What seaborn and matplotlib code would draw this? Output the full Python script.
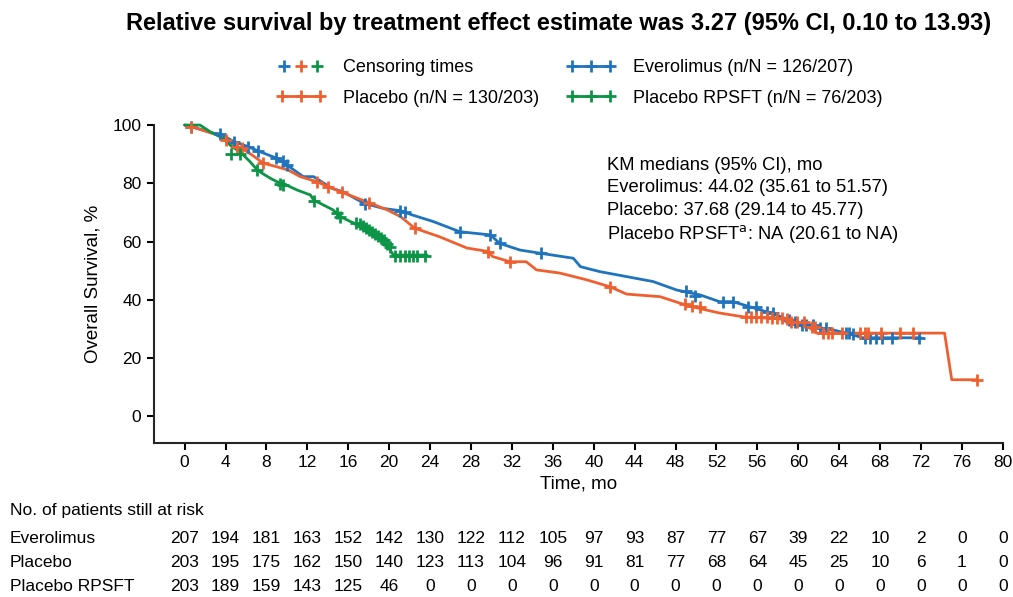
import numpy as np
import pandas as pd
import matplotlib
matplotlib.use("Agg")
import matplotlib.pyplot as plt
import matplotlib.transforms as mtransforms
from matplotlib.lines import Line2D
from matplotlib.legend_handler import HandlerTuple, HandlerLine2D
import seaborn as sns

# ── DATA ─────────────────────────────────────────────────────
evero_t = [0, 0.6, 1.8, 2.8, 3.5, 4.8, 6.2, 7.2, 9.0, 10.0, 11.6, 12.6, 14.4, 15.5,
           17.5, 19.4, 21.1, 22.3, 24.3, 26.9, 29.9, 30.8, 32.8, 34.8, 38.0, 38.7,
           40.6, 43.2, 45.8, 48.1, 50.4, 52.3, 53.6, 55.3, 56.9, 59.2, 59.5, 61.4,
           62.0, 63.4, 64.7, 66.3, 72.0]
evero_s = [100, 99.5, 98.3, 97.2, 97.0, 94.3, 92.6, 91.1, 88.6, 86.3, 82.3, 82.3,
           78.3, 77.1, 73.2, 71.4, 70.6, 69.1, 66.9, 63.4, 62.3, 59.4, 57.1, 56.0,
           54.3, 51.4, 49.7, 48.0, 46.3, 43.4, 41.7, 39.4, 39.4, 37.6, 35.9, 33.1,
           31.5, 31.5, 30.5, 29.7, 28.6, 27.0, 27.0]

plac_t = [0, 0.6, 2.2, 3.2, 4.0, 5.1, 5.6, 6.6, 7.7, 9.0, 10.1, 11.3, 12.9, 14.0,
          15.4, 18.0, 19.8, 21.1, 22.5, 24.9, 27.6, 29.7, 30.1, 31.8, 33.4, 34.4,
          36.7, 39.3, 41.6, 43.2, 46.5, 48.4, 50.4, 52.3, 54.6, 58.2, 59.2, 61.1,
          61.8, 74.3, 75.0, 77.5]
plac_s = [100, 99.5, 97.7, 96.6, 94.9, 92.6, 92.0, 89.7, 86.9, 85.7, 84.6, 82.3,
          80.6, 78.9, 76.9, 73.4, 70.9, 68.6, 64.6, 61.7, 57.8, 56.6, 54.9, 53.1,
          53.1, 50.3, 49.2, 46.9, 44.5, 42.0, 41.1, 38.9, 37.0, 35.5, 34.2, 33.5,
          32.0, 30.4, 28.6, 28.6, 12.6, 12.6]

rpsft_t = [0, 1.5, 2.5, 3.8, 4.6, 5.4, 6.4, 7.1, 7.6, 8.4, 9.0, 9.6, 11.0, 12.3,
           12.6, 14.5, 15.2, 16.2, 17.0, 17.8, 18.8, 19.4, 19.9, 20.4, 23.7]
rpsft_s = [100, 100, 97.7, 95.4, 92.6, 90.9, 87.4, 84.6, 83.4, 81.7, 80.6, 80.0,
           77.7, 76.0, 74.3, 70.9, 68.6, 66.9, 65.7, 64.0, 62.3, 60.6, 58.3, 55.4,
           55.4]

# censoring marks
evero_cens_t = [0.6, 3.5, 4.8, 6.2, 7.2, 8.9, 9.6, 10.0, 17.6, 21.1, 21.5, 26.9,
                29.9, 30.8, 34.8, 49.0, 49.9, 52.6, 53.6, 55.1, 55.9, 56.9, 57.5,
                59.1, 59.7, 60.4, 60.8, 61.4, 62.1, 62.7, 64.7, 65.0, 65.3, 66.5,
                67.0, 67.6, 68.2, 69.2, 71.8]
evero_cens_s = [99.5, 97.1, 94.3, 92.6, 91.1, 88.6, 87.5, 86.3, 73.0, 70.6, 70.3,
                63.4, 62.3, 59.4, 56.0, 43.0, 41.5, 39.4, 39.4, 37.6, 37.4, 36.0,
                35.5, 33.1, 32.5, 31.5, 31.5, 31.5, 30.5, 30.2, 28.8, 28.6, 28.4,
                27.0, 27.0, 27.0, 27.0, 27.0, 27.0]

plac_cens_t = [0.6, 4.0, 5.1, 5.6, 7.7, 12.9, 14.0, 15.4, 18.0, 22.5, 29.7, 31.8,
               41.6, 48.9, 49.6, 50.4, 54.9, 55.4, 55.9, 56.4, 56.9, 57.4, 57.9,
               58.4, 58.9, 59.3, 59.9, 60.6, 61.3, 61.6, 62.4, 62.9, 63.3, 64.3,
               66.0, 66.5, 66.8, 68.1, 69.9, 71.2, 77.5]
plac_cens_s = [99.5, 94.9, 92.6, 92.0, 86.9, 80.6, 78.9, 76.9, 73.4, 64.6, 56.6,
               53.1, 44.5, 38.6, 38.0, 37.5, 34.2, 34.2, 34.2, 34.1, 34.0, 33.9,
               33.8, 33.7, 33.6, 32.4, 32.4, 32.4, 30.7, 30.7, 28.6, 28.6, 28.6,
               28.6, 28.6, 28.6, 28.6, 28.6, 28.6, 28.6, 12.6]

rpsft_cens_t = [4.5, 5.4, 7.1, 9.3, 9.6, 12.6, 14.9, 15.2, 16.8, 17.1, 17.4, 17.7,
                18.0, 18.3, 18.6, 18.9, 19.2, 19.5, 19.8, 20.1, 20.6, 21.1, 21.5,
                21.9, 22.3, 22.7, 23.5]
rpsft_cens_s = [90.2, 90.2, 84.6, 79.8, 79.4, 74.0, 69.8, 68.6, 66.5, 66.0, 65.3,
                64.6, 64.0, 63.3, 62.6, 62.0, 61.2, 60.5, 59.3, 58.0, 55.2, 55.2,
                55.2, 55.2, 55.2, 55.2, 55.2]

# numbers at risk
risk_times = list(range(0, 81, 4))
risk_evero = [207, 194, 181, 163, 152, 142, 130, 122, 112, 105, 97, 93, 87, 77, 67,
              39, 22, 10, 2, 0, 0]
risk_plac = [203, 195, 175, 162, 150, 140, 123, 113, 104, 96, 91, 81, 77, 68, 64,
             45, 25, 10, 6, 1, 0]
risk_rpsft = [203, 189, 159, 143, 125, 46, 0, 0, 0, 0, 0, 0, 0, 0, 0, 0, 0, 0, 0,
              0, 0]

arm_names = ["Everolimus", "Placebo", "Placebo RPSFT"]
arm_events = ["126/207", "130/203", "76/203"]
c_blue, c_orange, c_green = "#1f74bd", "#ef6030", "#0c9447"

# ── STYLE ────────────────────────────────────────────────────
sns.set_theme(style="ticks")
plt.rcParams["font.family"] = ["Liberation Sans", "DejaVu Sans"]
plt.rcParams["axes.linewidth"] = 1.5
plt.rcParams["text.color"] = "black"
plt.rcParams["axes.labelcolor"] = "black"
plt.rcParams["xtick.color"] = "black"
plt.rcParams["ytick.color"] = "black"

fig = plt.figure(figsize=(10.13, 5.97), dpi=100)
ax = fig.add_axes([0.152, 0.2585, 0.838, 0.532])

# ── CURVES ───────────────────────────────────────────────────
curves = [(evero_t, evero_s, c_blue), (plac_t, plac_s, c_orange),
          (rpsft_t, rpsft_s, c_green)]
for t, s, c in curves:
    sns.lineplot(x=t, y=s, ax=ax, color=c, linewidth=2.0, sort=False,
                 estimator=None, clip_on=False)

cens = [(evero_cens_t, evero_cens_s, c_blue), (plac_cens_t, plac_cens_s, c_orange),
        (rpsft_cens_t, rpsft_cens_s, c_green)]
for t, s, c in cens:
    sns.scatterplot(x=t, y=s, ax=ax, marker="+", s=85, linewidth=2.0, color=c,
                    clip_on=False, zorder=3)

ax.set_xlim(-3, 80)
ax.set_ylim(-9, 100)
ax.set_xticks(risk_times)
ax.set_yticks(range(0, 101, 20))
ax.tick_params(axis="both", labelsize=12.5, length=5, width=1.5, pad=4)
sns.despine(ax=ax)
ax.set_xlabel("Time, mo", fontsize=13.5, labelpad=4)
ax.set_ylabel("Overall Survival, %", fontsize=13.5, labelpad=8)

# ── TITLE / LEGEND ───────────────────────────────────────────
fig.text(0.551, 0.961, "Relative survival by treatment effect estimate was 3.27 "
         "(95% CI, 0.10 to 13.93)", ha="center", va="center", fontsize=17,
         fontweight="bold")

mk = dict(marker="+", markersize=9, markeredgewidth=2.0, linestyle="none")
cb = Line2D([], [], color=c_blue, **mk)
co = Line2D([], [], color=c_orange, **mk)
cg = Line2D([], [], color=c_green, **mk)
ln = dict(marker="+", markersize=9, markeredgewidth=2.0, linewidth=2.0)
h_e = Line2D([], [], color=c_blue, **ln)
h_p = Line2D([], [], color=c_orange, **ln)
h_r = Line2D([], [], color=c_green, **ln)
handles = [(cb, co, cg), h_p, h_e, h_r]
labels = ["Censoring times",
          f"{arm_names[1]} (n/N = {arm_events[1]})",
          f"{arm_names[0]} (n/N = {arm_events[0]})",
          f"{arm_names[2]} (n/N = {arm_events[2]})"]
single = HandlerLine2D(numpoints=1)
fig.legend(handles, labels, ncol=2, loc="center", bbox_to_anchor=(0.572, 0.861),
           frameon=False, fontsize=13, numpoints=3, handlelength=2.7,
           handletextpad=1.0, columnspacing=1.5, labelspacing=0.75,
           handler_map={tuple: HandlerTuple(ndivide=None, pad=0.0),
                        cb: single, co: single, cg: single})

# ── KM MEDIANS ───────────────────────────────────────────────
med_lines = ["KM medians (95% CI), mo",
             "Everolimus: 44.02 (35.61 to 51.57)",
             "Placebo: 37.68 (29.14 to 45.77)",
             r"Placebo RPSFT$^{\mathrm{a}}$: NA (20.61 to NA)"]
for i, txt in enumerate(med_lines):
    fig.text(0.599, 0.7236 - i * 0.0385, txt, ha="left", va="center", fontsize=13.2)

# ── RISK TABLE ───────────────────────────────────────────────
trans = mtransforms.blended_transform_factory(ax.transData, fig.transFigure)
fig.text(0.0099, 0.1457, "No. of patients still at risk", ha="left", va="center",
         fontsize=12.5)
rows = [(arm_names[0], risk_evero, 0.0988), (arm_names[1], risk_plac, 0.0586),
        (arm_names[2], risk_rpsft, 0.0184)]
for name, vals, yy in rows:
    fig.text(0.0099, yy, name, ha="left", va="center", fontsize=12.5)
    for t, v in zip(risk_times, vals):
        ax.text(t, yy, str(v), transform=trans, ha="center", va="center",
                fontsize=12.5)

fig.savefig("out.png", dpi=100)
